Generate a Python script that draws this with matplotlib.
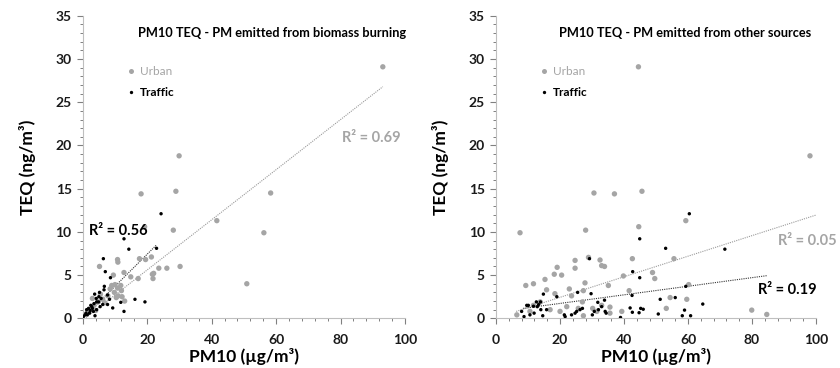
import numpy as np
import matplotlib
matplotlib.use("Agg")
import matplotlib.pyplot as plt
from matplotlib.ticker import MultipleLocator
from matplotlib.lines import Line2D

plt.rcParams['font.family'] = ['Lato', 'DejaVu Sans']

# ---- PM emitted from biomass burning ----
bio_urban_pm = [93.1, 29.9, 28.9, 18.1, 58.3, 41.6, 28.1, 19.2, 56.2, 50.9, 30.2, 26.1,
                23.6, 21.3, 19.5, 17.6, 22.0, 21.6, 21.8, 17.2, 14.9, 12.8, 10.8, 10.9,
                5.2, 9.5, 9.0, 10.0, 10.8, 11.8, 12.0, 11.0, 9.8, 12.2, 10.4, 8.5, 7.8,
                6.2, 5.5, 4.8, 6.8, 3.5, 2.5, 4.0, 1.5, 3.0, 13.0]
bio_urban_teq = [29.1, 18.8, 14.7, 14.4, 14.5, 11.3, 10.2, 10.6, 9.9, 4.0, 6.0, 5.8,
                 5.8, 7.1, 6.8, 6.9, 5.2, 5.1, 4.6, 4.6, 4.8, 5.3, 6.8, 6.5,
                 6.0, 5.0, 3.8, 3.9, 3.5, 3.8, 3.2, 2.6, 3.0, 2.5, 2.4, 3.4, 2.6,
                 2.2, 2.8, 1.9, 1.8, 1.5, 1.0, 0.9, 0.6, 2.3, 2.0]

bio_traffic_pm = [24.3, 12.8, 14.3, 22.9, 6.4, 7.0, 8.6, 6.7, 16.2, 19.3, 11.8, 12.8,
                  9.3, 7.7, 8.3, 7.7, 5.2, 3.7, 5.0, 4.3, 3.5, 2.8, 1.8, 2.3, 1.0,
                  0.7, 1.4, 0.2, 3.3, 4.3, 5.4, 3.8, 2.5, 4.9, 5.7, 6.2, 2.1, 3.0,
                  1.2, 6.6, 4.2]
bio_traffic_teq = [12.1, 9.2, 8.0, 8.1, 6.9, 5.4, 4.7, 3.7, 2.2, 1.9, 1.85, 0.8,
                   1.2, 2.7, 2.2, 1.6, 3.0, 2.8, 2.5, 1.9, 1.7, 1.35, 1.15, 0.9, 0.6,
                   0.4, 0.4, 0.2, 0.8, 1.0, 1.35, 0.3, 1.5, 1.9, 2.3, 1.6, 0.6, 1.15,
                   1.0, 3.3, 2.3]

# ---- PM emitted from other sources ----
oth_urban_pm = [44.5, 98.1, 30.6, 37.0, 45.6, 7.5, 28.0, 44.6, 59.3, 28.9, 32.5, 42.6,
                55.6, 24.7, 24.7, 33.0, 33.9, 19.1, 18.2, 20.5, 15.3, 9.3, 11.7, 15.8,
                22.9, 27.8, 39.8, 35.1, 48.9, 49.6, 41.6, 23.6, 27.3, 18.4, 54.4, 59.6,
                60.2, 53.2, 39.3, 35.6, 35.6, 30.2, 27.0, 22.1, 20.0, 13.8, 11.7, 6.5,
                10.6, 16.9, 79.9, 84.6, 27.3, 31.5, 33.0, 25.7]
oth_urban_teq = [29.1, 18.8, 14.5, 14.4, 14.7, 9.9, 10.2, 10.6, 11.3, 7.05, 6.75, 6.9,
                 6.9, 6.7, 5.8, 6.1, 6.0, 5.9, 5.1, 5.0, 4.5, 3.8, 4.0, 3.3,
                 3.4, 4.1, 4.9, 3.8, 5.3, 4.6, 3.2, 2.6, 3.2, 2.85, 2.4, 2.2,
                 3.9, 1.15, 0.8, 1.3, 0.6, 1.15, 1.9, 1.35, 0.8, 1.9, 1.5, 0.4,
                 0.8, 1.0, 0.95, 0.45, 0.3, 0.8, 1.5, 1.15]

oth_traffic_pm = [60.4, 44.9, 53.0, 71.5, 29.2, 42.7, 44.9, 59.3, 14.8, 19.0, 29.7, 25.5,
                  42.5, 56.0, 51.3, 64.6, 33.9, 31.8, 41.9, 45.2, 46.0, 42.6, 44.7, 50.7,
                  58.9, 58.2, 60.8, 38.9, 12.6, 12.9, 13.9, 13.3, 11.7, 9.6, 10.1, 8.0,
                  8.75, 10.6, 11.9, 14.6, 15.8, 21.35, 21.6, 23.6, 24.7, 25.2, 26.25,
                  27.0, 30.1, 30.7, 32.0, 33.0, 34.1, 34.4, 14.0]
oth_traffic_teq = [12.1, 9.2, 8.1, 8.0, 6.9, 5.4, 4.7, 3.7, 2.8, 2.5, 2.85, 3.0,
                   2.65, 2.4, 2.2, 1.65, 2.1, 1.85, 1.2, 1.15, 1.05, 0.7, 0.65, 0.5,
                   0.95, 0.3, 0.3, 0.1, 1.9, 1.35, 1.9, 1.6, 1.4, 1.5, 1.5, 0.8,
                   0.2, 0.4, 0.6, 0.3, 1.0, 0.4, 0.2, 0.4, 0.6, 0.8, 1.0,
                   1.15, 0.4, 0.8, 1.0, 1.35, 0.8, 0.6, 1.0]

# Linear trendlines: slope, intercept, x-range start, x-range end
bio_urban_trend = [0.29, -0.2, 1.0, 93.1]
bio_traffic_trend = [0.371, 0.0, 0.5, 22.9]
oth_urban_trend = [0.119, 0.05, 6.3, 100.0]
oth_traffic_trend = [0.0497, 0.73, 8.5, 84.6]

panel_titles = ["PM10 TEQ - PM emitted from biomass burning",
                "PM10 TEQ - PM emitted from other sources"]
r2_labels = [("R\u00b2 = 0.69", "R\u00b2 = 0.56"), ("R\u00b2 = 0.05", "R\u00b2 = 0.19")]
series_names = ["Urban", "Traffic"]

GRAY = "#a5a5a5"
BLACK = "#000000"
AXIS_GRAY = "#bfbfbf"

fig = plt.figure(figsize=(8.4, 3.68), dpi=100)
ax1 = fig.add_axes([0.0985, 0.135, 0.3837, 0.822])
ax2 = fig.add_axes([0.5905, 0.135, 0.381, 0.822])


def trend(ax, params, color):
    k, b, x0, x1 = params
    xs = np.array([x0, x1])
    ax.plot(xs, k * xs + b, color=color, lw=0.8, ls=(0, (1, 1)), zorder=1)


def style(ax):
    ax.set_xlim(0, 100)
    ax.set_ylim(0, 35)
    ax.xaxis.set_major_locator(MultipleLocator(20))
    ax.xaxis.set_minor_locator(MultipleLocator(4))
    ax.yaxis.set_major_locator(MultipleLocator(5))
    ax.yaxis.set_minor_locator(MultipleLocator(1))
    for s in ("top", "right"):
        ax.spines[s].set_visible(False)
    for s in ("left", "bottom"):
        ax.spines[s].set_color(AXIS_GRAY)
        ax.spines[s].set_linewidth(0.8)
    ax.tick_params(which="major", direction="out", length=4, width=0.8,
                   color="#808080", labelsize=10, labelcolor="#1a1a1a")
    ax.tick_params(axis="x", which="major", pad=7)
    ax.tick_params(axis="y", which="major", pad=4)
    ax.tick_params(which="minor", direction="out", length=2.5, width=0.7, color="#808080")
    for lbl in ax.get_xticklabels() + ax.get_yticklabels():
        lbl.set_fontweight("bold")
    ax.set_xlabel("PM10 (\u00b5g/m\u00b3)", fontsize=12.5, fontweight="bold", labelpad=2)
    ax.set_ylabel("TEQ (ng/m\u00b3)", fontsize=12.5, fontweight="bold", labelpad=14)
    handles = [Line2D([], [], ls="none", marker="o", ms=3.6, color=GRAY, mec="none"),
               Line2D([], [], ls="none", marker="o", ms=2.4, color=BLACK, mec="none")]
    leg = ax.legend(handles, series_names, loc="upper left", bbox_to_anchor=(0.125, 0.85),
                    frameon=False, fontsize=8.5, handlelength=0.6, handletextpad=0.4,
                    labelspacing=0.85, borderaxespad=0)
    leg.get_texts()[0].set_color(GRAY)
    leg.get_texts()[1].set_color(BLACK)
    leg.get_texts()[1].set_fontweight("bold")


# Biomass-burning panel
ax1.scatter(bio_urban_pm, bio_urban_teq, s=15, color=GRAY, edgecolors="none", zorder=2)
ax1.scatter(bio_traffic_pm, bio_traffic_teq, s=6, color=BLACK, edgecolors="none", zorder=3)
trend(ax1, bio_urban_trend, "#9a9a9a")
trend(ax1, bio_traffic_trend, "#333333")
style(ax1)
ax1.text(58.7, 33.0, panel_titles[0], ha="center", va="center", fontsize=9.2, fontweight="bold")
ax1.text(89.6, 20.9, r2_labels[0][0], ha="center", va="center", fontsize=10.5,
         fontweight="bold", color=GRAY)
ax1.text(11.1, 10.1, r2_labels[0][1], ha="center", va="center", fontsize=10.5,
         fontweight="bold", color=BLACK)

# Other-sources panel
ax2.scatter(oth_urban_pm, oth_urban_teq, s=15, color=GRAY, edgecolors="none", zorder=2)
ax2.scatter(oth_traffic_pm, oth_traffic_teq, s=6, color=BLACK, edgecolors="none", zorder=3)
trend(ax2, oth_urban_trend, "#9a9a9a")
trend(ax2, oth_traffic_trend, "#333333")
style(ax2)
ax2.text(59.0, 33.0, panel_titles[1], ha="center", va="center", fontsize=9.2, fontweight="bold")
ax2.text(106.5, 8.9, r2_labels[1][0], ha="right", va="center", fontsize=10.5,
         fontweight="bold", color=GRAY, clip_on=False)
ax2.text(91.0, 3.3, r2_labels[1][1], ha="center", va="center", fontsize=10.5,
         fontweight="bold", color=BLACK)

fig.savefig("out.png", dpi=100)
